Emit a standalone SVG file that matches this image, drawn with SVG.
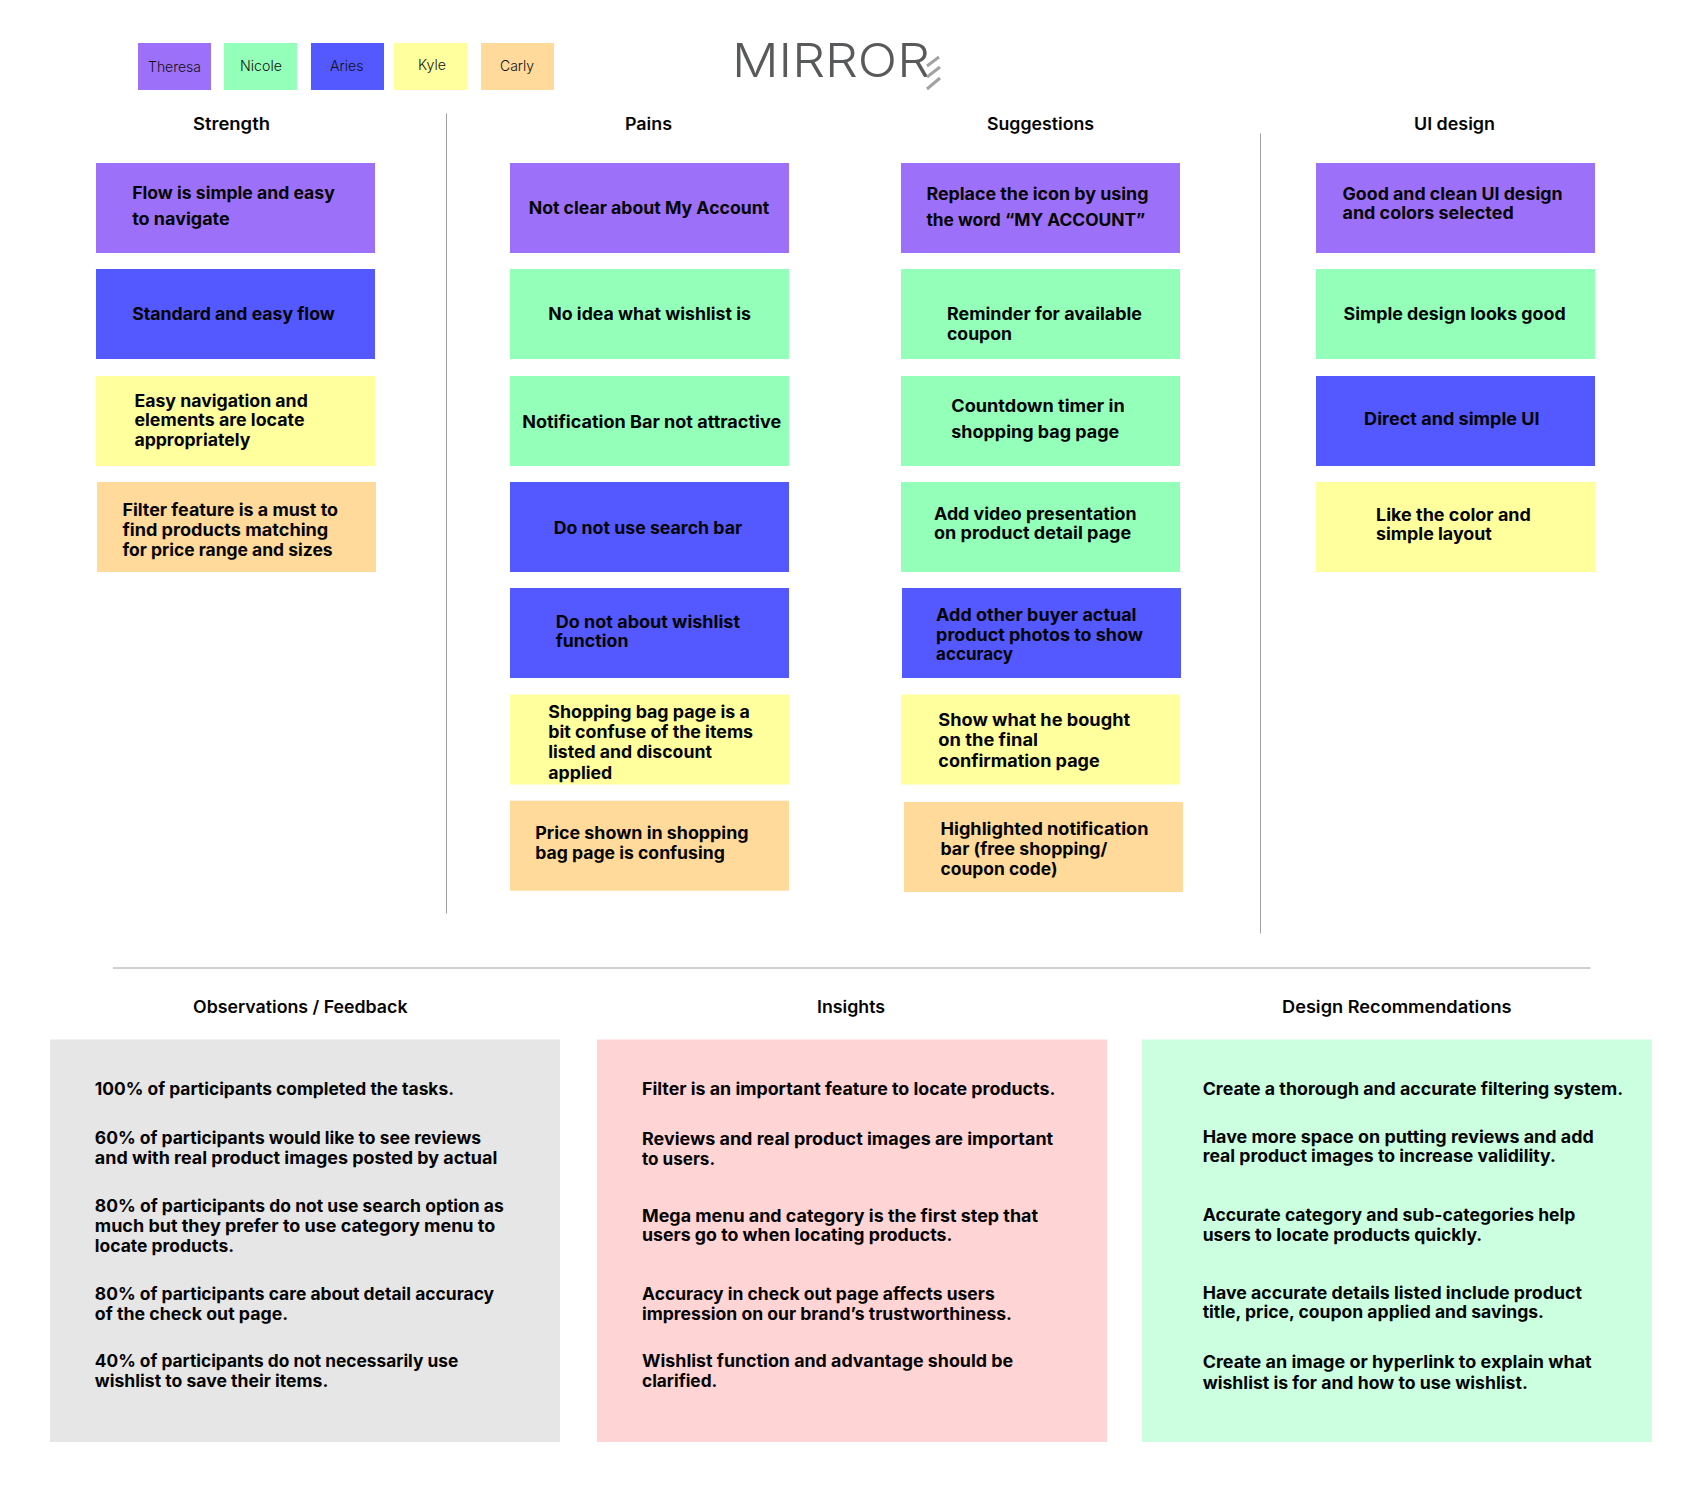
<svg xmlns="http://www.w3.org/2000/svg" width="1699" height="1485" viewBox="0 0 1699 1485">
<style>
text{font-family:"Inter","Noto Sans","Liberation Sans",sans-serif;fill:#050505}
.t{font-size:17px;font-weight:700;transform:translateY(1px)}
.h{font-size:17px;font-weight:600;transform:translateY(1px)}
.l{font-size:14px;font-weight:300;fill:#111}
.p{fill:#9d70f9}.g{fill:#94ffb9}.b{fill:#5458ff}.y{fill:#ffff9e}.o{fill:#ffda9b}
.div{stroke:#a0a0a0;stroke-width:1;fill:none}
.chev{stroke:#a3a3a3;stroke-width:3;fill:none}
</style>
<rect width="1699" height="1485" fill="#fff"/>
<g id="legend">
<g id="legend-theresa"><rect class="p" x="138" y="43" width="73" height="47"/><text class="l" x="148" y="71.5" textLength="53" lengthAdjust="spacingAndGlyphs">Theresa</text></g>
<g id="legend-nicole"><rect class="g" x="224" y="43" width="73" height="47"/><text class="l" x="240" y="71" textLength="42" lengthAdjust="spacingAndGlyphs">Nicole</text></g>
<g id="legend-aries"><rect class="b" x="311" y="43" width="73" height="47"/><text class="l" x="330" y="71" textLength="33.5" lengthAdjust="spacingAndGlyphs">Aries</text></g>
<g id="legend-kyle"><rect class="y" x="394" y="43" width="73" height="47"/><text class="l" x="418" y="70" textLength="28" lengthAdjust="spacingAndGlyphs">Kyle</text></g>
<g id="legend-carly"><rect class="o" x="481" y="43" width="73" height="47"/><text class="l" x="500" y="71" textLength="34" lengthAdjust="spacingAndGlyphs">Carly</text></g>
</g>
<g id="logo">
<text x="732" y="77" font-size="47" font-weight="300" style="fill:#58595b" textLength="198" lengthAdjust="spacingAndGlyphs">MIRROR</text>
<path class="chev" d="M927 66L939 57M927 77L940 67M927 89L940 78"/>
</g>
<g id="connectors">
<path class="div" d="M446.5 113.5V913.5M1260.5 133.5V933.5M113 968H1590.6"/>
</g>
<g id="headers">
<text class="h" x="193" y="128.5" textLength="77" lengthAdjust="spacingAndGlyphs">Strength</text>
<text class="h" x="625" y="128.5" textLength="47" lengthAdjust="spacingAndGlyphs">Pains</text>
<text class="h" x="987" y="128.5" textLength="107" lengthAdjust="spacingAndGlyphs">Suggestions</text>
<text class="h" x="1414" y="128.5" textLength="81" lengthAdjust="spacingAndGlyphs">UI design</text>
<text class="h" x="193" y="1011.5" textLength="214.5" lengthAdjust="spacingAndGlyphs">Observations / Feedback</text>
<text class="h" x="817" y="1011.5" textLength="68" lengthAdjust="spacingAndGlyphs">Insights</text>
<text class="h" x="1282" y="1011.5" textLength="229.5" lengthAdjust="spacingAndGlyphs">Design Recommendations</text>
</g>
<g id="strength-1"><rect class="p" x="96" y="163" width="279" height="90"/><text class="t" x="132.2" y="197.8" textLength="202.6" lengthAdjust="spacingAndGlyphs">Flow is simple and easy</text><text class="t" x="132.2" y="223.8" textLength="97.5" lengthAdjust="spacingAndGlyphs">to navigate</text></g>
<g id="strength-2"><rect class="b" x="96" y="269" width="279" height="90"/><text class="t" x="132.2" y="319.1" textLength="202.6" lengthAdjust="spacingAndGlyphs">Standard and easy flow</text></g>
<g id="strength-3"><rect class="y" x="96" y="376" width="279" height="90"/><text class="t" x="134.4" y="405.8" textLength="173.4" lengthAdjust="spacingAndGlyphs">Easy navigation and</text><text class="t" x="134.4" y="425.3" textLength="170.1" lengthAdjust="spacingAndGlyphs">elements are locate</text><text class="t" x="134.4" y="444.8" textLength="115.9" lengthAdjust="spacingAndGlyphs">appropriately</text></g>
<g id="strength-4"><rect class="o" x="97" y="482" width="279" height="90"/><text class="t" x="122.4" y="515.2" textLength="215.6" lengthAdjust="spacingAndGlyphs">Filter feature is a must to</text><text class="t" x="122.4" y="534.7" textLength="205.9" lengthAdjust="spacingAndGlyphs">find products matching</text><text class="t" x="122.4" y="555.3" textLength="210.2" lengthAdjust="spacingAndGlyphs">for price range and sizes</text></g>
<g id="pains-1"><rect class="p" x="510" y="163" width="279" height="90"/><text class="t" x="528.7" y="212.9" textLength="240.5" lengthAdjust="spacingAndGlyphs">Not clear about My Account</text></g>
<g id="pains-2"><rect class="g" x="510" y="269" width="279" height="90"/><text class="t" x="548.3" y="319.1" textLength="202.6" lengthAdjust="spacingAndGlyphs">No idea what wishlist is</text></g>
<g id="pains-3"><rect class="g" x="510" y="376" width="279" height="90"/><text class="t" x="522.2" y="426.9" textLength="259" lengthAdjust="spacingAndGlyphs">Notification Bar not attractive</text></g>
<g id="pains-4"><rect class="b" x="510" y="482" width="279" height="90"/><text class="t" x="553.7" y="532.6" textLength="188.5" lengthAdjust="spacingAndGlyphs">Do not use search bar</text></g>
<g id="pains-5"><rect class="b" x="510" y="588" width="279" height="90"/><text class="t" x="555.8" y="626.8" textLength="184.2" lengthAdjust="spacingAndGlyphs">Do not about wishlist</text><text class="t" x="555.8" y="646.3" textLength="72.6" lengthAdjust="spacingAndGlyphs">function</text></g>
<g id="pains-6"><rect class="y" x="510" y="694.5" width="279" height="90"/><text class="t" x="548.3" y="716.8" textLength="201.5" lengthAdjust="spacingAndGlyphs">Shopping bag page is a</text><text class="t" x="548.3" y="737.4" textLength="204.8" lengthAdjust="spacingAndGlyphs">bit confuse of the items</text><text class="t" x="548.3" y="756.9" textLength="163.6" lengthAdjust="spacingAndGlyphs">listed and discount</text><text class="t" x="548.3" y="777.5" textLength="63.9" lengthAdjust="spacingAndGlyphs">applied</text></g>
<g id="pains-7"><rect class="o" x="510" y="800.7" width="279" height="90"/><text class="t" x="535.2" y="838.1" textLength="213.4" lengthAdjust="spacingAndGlyphs">Price shown in shopping</text><text class="t" x="535.2" y="857.6" textLength="189.6" lengthAdjust="spacingAndGlyphs">bag page is confusing</text></g>
<g id="suggestions-1"><rect class="p" x="901" y="163" width="279" height="90"/><text class="t" x="926.4" y="198.9" textLength="222.1" lengthAdjust="spacingAndGlyphs">Replace the icon by using</text><text class="t" x="926.4" y="224.9" textLength="218.9" lengthAdjust="spacingAndGlyphs">the word “MY ACCOUNT”</text></g>
<g id="suggestions-2"><rect class="g" x="901" y="269" width="279" height="90"/><text class="t" x="947" y="319.1" textLength="195" lengthAdjust="spacingAndGlyphs">Reminder for available</text><text class="t" x="947" y="338.6" textLength="65" lengthAdjust="spacingAndGlyphs">coupon</text></g>
<g id="suggestions-3"><rect class="g" x="901" y="376" width="279" height="90"/><text class="t" x="951.3" y="411.2" textLength="173.4" lengthAdjust="spacingAndGlyphs">Countdown timer in</text><text class="t" x="951.3" y="437.2" textLength="167.9" lengthAdjust="spacingAndGlyphs">shopping bag page</text></g>
<g id="suggestions-4"><rect class="g" x="901" y="482" width="279" height="90"/><text class="t" x="934" y="518.5" textLength="202.6" lengthAdjust="spacingAndGlyphs">Add video presentation</text><text class="t" x="934" y="538" textLength="197.2" lengthAdjust="spacingAndGlyphs">on product detail page</text></g>
<g id="suggestions-5"><rect class="b" x="902" y="588" width="279" height="90"/><text class="t" x="936.1" y="620.3" textLength="200.4" lengthAdjust="spacingAndGlyphs">Add other buyer actual</text><text class="t" x="936.1" y="639.8" textLength="206.9" lengthAdjust="spacingAndGlyphs">product photos to show</text><text class="t" x="936.1" y="659.4" textLength="76.9" lengthAdjust="spacingAndGlyphs">accuracy</text></g>
<g id="suggestions-6"><rect class="y" x="901" y="694.5" width="279" height="90"/><text class="t" x="938.3" y="725.4" textLength="191.8" lengthAdjust="spacingAndGlyphs">Show what he bought</text><text class="t" x="938.3" y="744.9" textLength="99.7" lengthAdjust="spacingAndGlyphs">on the final</text><text class="t" x="938.3" y="765.5" textLength="161.4" lengthAdjust="spacingAndGlyphs">confirmation page</text></g>
<g id="suggestions-7"><rect class="o" x="904" y="802" width="279" height="90"/><text class="t" x="940.5" y="833.8" textLength="208" lengthAdjust="spacingAndGlyphs">Highlighted notification</text><text class="t" x="940.5" y="854.4" textLength="166.9" lengthAdjust="spacingAndGlyphs">bar (free shopping/</text><text class="t" x="940.5" y="873.9" textLength="117" lengthAdjust="spacingAndGlyphs">coupon code)</text></g>
<g id="ui-1"><rect class="p" x="1316" y="163" width="279" height="90"/><text class="t" x="1342.5" y="198.9" textLength="220" lengthAdjust="spacingAndGlyphs">Good and clean UI design</text><text class="t" x="1342.5" y="218.4" textLength="171.2" lengthAdjust="spacingAndGlyphs">and colors selected</text></g>
<g id="ui-2"><rect class="g" x="1316" y="269" width="279" height="90"/><text class="t" x="1343.5" y="319.1" textLength="222.1" lengthAdjust="spacingAndGlyphs">Simple design looks good</text></g>
<g id="ui-3"><rect class="b" x="1316" y="376" width="279" height="90"/><text class="t" x="1364.1" y="424.2" textLength="175.5" lengthAdjust="spacingAndGlyphs">Direct and simple UI</text></g>
<g id="ui-4"><rect class="y" x="1316" y="482" width="279" height="90"/><text class="t" x="1376" y="519.6" textLength="154.9" lengthAdjust="spacingAndGlyphs">Like the color and</text><text class="t" x="1376" y="539.1" textLength="115.9" lengthAdjust="spacingAndGlyphs">simple layout</text></g>
<g id="observations"><rect x="50" y="1039.5" width="510" height="402.5" fill="#e6e6e6"/>
<text class="t" x="94.8" y="1093.8" textLength="359.2" lengthAdjust="spacingAndGlyphs">100% of participants completed the tasks.</text>
<text class="t" x="94.8" y="1142.6" textLength="386.3" lengthAdjust="spacingAndGlyphs">60% of participants would like to see reviews</text>
<text class="t" x="94.8" y="1163.2" textLength="402.5" lengthAdjust="spacingAndGlyphs">and with real product images posted by actual</text>
<text class="t" x="94.8" y="1210.9" textLength="409" lengthAdjust="spacingAndGlyphs">80% of participants do not use search option as</text>
<text class="t" x="94.8" y="1231.4" textLength="400.4" lengthAdjust="spacingAndGlyphs">much but they prefer to use category menu to</text>
<text class="t" x="94.8" y="1250.9" textLength="139.2" lengthAdjust="spacingAndGlyphs">locate products.</text>
<text class="t" x="94.8" y="1298.6" textLength="399.3" lengthAdjust="spacingAndGlyphs">80% of participants care about detail accuracy</text>
<text class="t" x="94.8" y="1319.2" textLength="193.4" lengthAdjust="spacingAndGlyphs">of the check out page.</text>
<text class="t" x="94.8" y="1365.8" textLength="363.5" lengthAdjust="spacingAndGlyphs">40% of participants do not necessarily use</text>
<text class="t" x="94.8" y="1386.4" textLength="233.5" lengthAdjust="spacingAndGlyphs">wishlist to save their items.</text>
</g>
<g id="insights"><rect x="597" y="1039.5" width="510" height="402.5" fill="#ffd4d4"/>
<text class="t" x="642" y="1093.8" textLength="413.4" lengthAdjust="spacingAndGlyphs">Filter is an important feature to locate products.</text>
<text class="t" x="642" y="1143.7" textLength="411.2" lengthAdjust="spacingAndGlyphs">Reviews and real product images are important</text>
<text class="t" x="642" y="1164.3" textLength="73.1" lengthAdjust="spacingAndGlyphs">to users.</text>
<text class="t" x="642" y="1220.6" textLength="396" lengthAdjust="spacingAndGlyphs">Mega menu and category is the first step that</text>
<text class="t" x="642" y="1240.1" textLength="310.4" lengthAdjust="spacingAndGlyphs">users go to when locating products.</text>
<text class="t" x="642" y="1298.6" textLength="352.7" lengthAdjust="spacingAndGlyphs">Accuracy in check out page affects users</text>
<text class="t" x="642" y="1319.2" textLength="370" lengthAdjust="spacingAndGlyphs">impression on our brand’s trustworthiness.</text>
<text class="t" x="642" y="1365.8" textLength="371.1" lengthAdjust="spacingAndGlyphs">Wishlist function and advantage should be</text>
<text class="t" x="642" y="1386.4" textLength="75.3" lengthAdjust="spacingAndGlyphs">clarified.</text>
</g>
<g id="recommendations"><rect x="1142" y="1039.5" width="510" height="402.5" fill="#ccffe0"/>
<text class="t" x="1202.7" y="1093.8" textLength="420.4" lengthAdjust="spacingAndGlyphs">Create a thorough and accurate filtering system.</text>
<text class="t" x="1202.7" y="1141.5" textLength="391.1" lengthAdjust="spacingAndGlyphs">Have more space on putting reviews and add</text>
<text class="t" x="1202.7" y="1161" textLength="353.2" lengthAdjust="spacingAndGlyphs">real product images to increase validility.</text>
<text class="t" x="1202.7" y="1219.5" textLength="372.7" lengthAdjust="spacingAndGlyphs">Accurate category and sub-categories help</text>
<text class="t" x="1202.7" y="1240.1" textLength="279.5" lengthAdjust="spacingAndGlyphs">users to locate products quickly.</text>
<text class="t" x="1202.7" y="1297.5" textLength="379.2" lengthAdjust="spacingAndGlyphs">Have accurate details listed include product</text>
<text class="t" x="1202.7" y="1317" textLength="341.3" lengthAdjust="spacingAndGlyphs">title, price, coupon applied and savings.</text>
<text class="t" x="1202.7" y="1366.9" textLength="389" lengthAdjust="spacingAndGlyphs">Create an image or hyperlink to explain what</text>
<text class="t" x="1202.7" y="1387.5" textLength="325.1" lengthAdjust="spacingAndGlyphs">wishlist is for and how to use wishlist.</text>
</g>
</svg>
